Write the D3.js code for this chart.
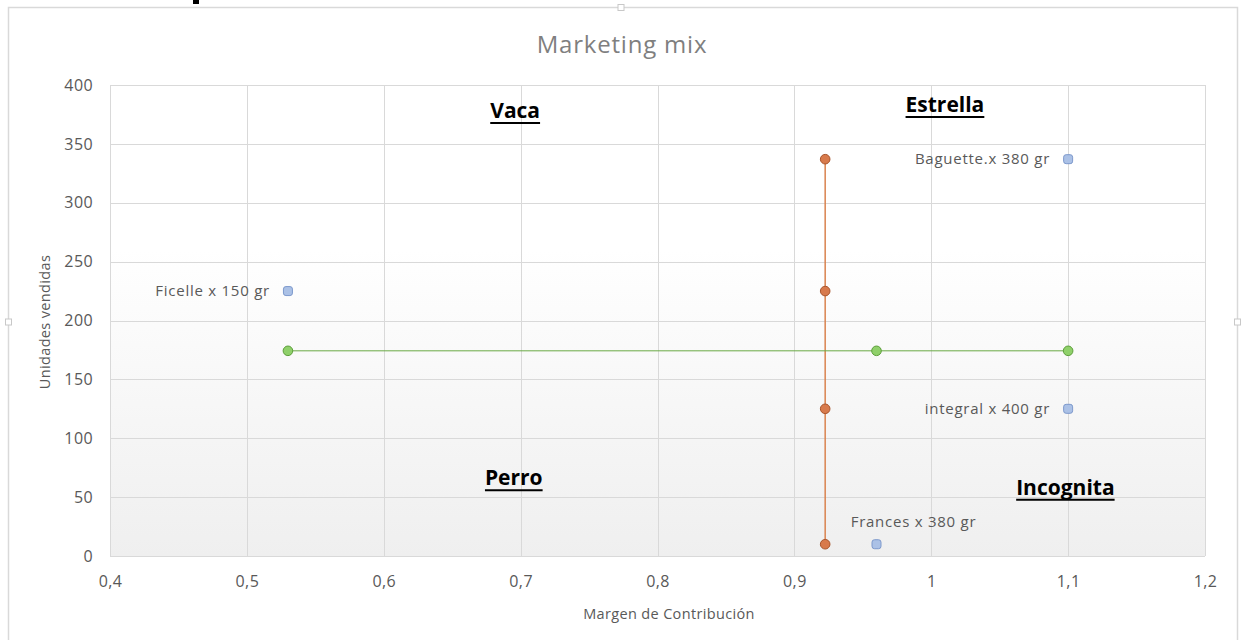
<!DOCTYPE html>
<html>
<head>
<meta charset="utf-8">
<script src="https://cdn.jsdelivr.net/npm/d3@7"></script>
<style>
  html, body { margin: 0; padding: 0; background: #ffffff; }
  svg { display: block; font-family: "Open Sans", "Liberation Sans", sans-serif; }
</style>
</head>
<body>
<svg id="chart" width="1243" height="640"></svg>
<script>
// ---- data ----
const products = ["Ficelle x 150 gr", "Baguette.x 380 gr", "integral x 400 gr", "Frances x 380 gr"];
const margins  = [0.53, 1.1, 1.1, 0.96];
const units    = [225, 337, 125, 10];
const avgMargin = 0.9225;             // vertical reference line (orange)
const avgUnits  = 174.25;             // horizontal reference line (green)
const greenMargins = [0.53, 0.96, 1.1];
const xTicks = [0.4, 0.5, 0.6, 0.7, 0.8, 0.9, 1.0, 1.1, 1.2];
const yTicks = [0, 50, 100, 150, 200, 250, 300, 350, 400];
const quadrants = ["Vaca", "Estrella", "Perro", "Incognita"];
const quadrantX = [0.696, 1.01, 0.695, 1.098];
const quadrantY = [372, 377, 60, 52];

const FONT = '"Open Sans", "Liberation Sans", sans-serif';
const svg = d3.select("#chart");
const x = d3.scaleLinear().domain([0.4, 1.2]).range([110, 1205]);
const y = d3.scaleLinear().domain([0, 400]).range([556, 85]);

// fragment of content above the chart (cut off by the crop)
svg.append("rect").attr("x", 193).attr("y", 0).attr("width", 6).attr("height", 4).attr("fill", "#000");

// chart frame
svg.append("rect").attr("x", 8.5).attr("y", 7.5).attr("width", 1229).attr("height", 660)
  .attr("fill", "#fff").attr("stroke", "#d9d9d9").attr("stroke-width", 1.5);
[[621, 7.5], [8.5, 322], [1237.5, 322]].forEach(([hx, hy]) => {
  svg.append("rect").attr("x", hx - 3).attr("y", hy - 3).attr("width", 6).attr("height", 6)
    .attr("fill", "#fff").attr("stroke", "#c8c8c8").attr("stroke-width", 1);
});

// plot background gradient
const defs = svg.append("defs");
const grad = defs.append("linearGradient").attr("id", "bg").attr("x1", 0).attr("y1", 0).attr("x2", 0).attr("y2", 1);
grad.append("stop").attr("offset", "0%").attr("stop-color", "#ffffff");
grad.append("stop").attr("offset", "35%").attr("stop-color", "#ffffff");
grad.append("stop").attr("offset", "100%").attr("stop-color", "#efefef");
svg.append("rect").attr("x", x(0.4)).attr("y", y(400)).attr("width", x(1.2) - x(0.4)).attr("height", y(0) - y(400))
  .attr("fill", "url(#bg)");

// gridlines
const g = svg.append("g");
g.selectAll(".vg").data(xTicks).join("line")
  .attr("x1", d => Math.round(x(d)) + 0.5).attr("x2", d => Math.round(x(d)) + 0.5)
  .attr("y1", y(400)).attr("y2", y(0)).attr("stroke", "#d9d9d9").attr("stroke-width", 1);
g.selectAll(".hg").data(yTicks).join("line")
  .attr("y1", d => Math.round(y(d)) + 0.5).attr("y2", d => Math.round(y(d)) + 0.5)
  .attr("x1", x(0.4)).attr("x2", x(1.2)).attr("stroke", "#d9d9d9").attr("stroke-width", 1);

// axes
const xAxis = svg.append("g").attr("transform", `translate(0,${y(0)})`)
  .call(d3.axisBottom(x).tickValues(xTicks).tickSize(0).tickPadding(20)
    .tickFormat(d => d === 1 ? "1" : d3.format(".1f")(d).replace(".", ",")));
xAxis.attr("font-family", FONT);
xAxis.select(".domain").remove();
xAxis.selectAll("text").attr("fill", "#595959").style("font-size", "16px").style("letter-spacing", "0.4px");

const yAxis = svg.append("g").attr("transform", `translate(${x(0.4)},0)`)
  .call(d3.axisLeft(y).tickValues(yTicks).tickSize(0).tickPadding(17));
yAxis.attr("font-family", FONT);
yAxis.select(".domain").remove();
yAxis.selectAll("text").attr("fill", "#595959").style("font-size", "16px").style("letter-spacing", "0.4px");

// axis titles
svg.append("text").attr("x", 669).attr("y", 619).attr("text-anchor", "middle")
  .style("font-size", "14.5px").style("letter-spacing", "0.35px").attr("fill", "#595959").text("Margen de Contribución");
svg.append("text").attr("transform", "translate(50,322) rotate(-90)").attr("text-anchor", "middle")
  .style("font-size", "14.5px").style("letter-spacing", "0.35px").attr("fill", "#595959").text("Unidades vendidas");

// title
svg.append("text").attr("x", 622).attr("y", 53).attr("text-anchor", "middle")
  .style("font-size", "24px").style("letter-spacing", "0.8px").attr("fill", "#7f7f7f").text("Marketing mix");

// orange vertical line + points
const oData = units.map(u => ({ m: avgMargin, u }));
svg.append("path").datum(d3.sort(oData, d => d.u))
  .attr("d", d3.line().x(d => x(d.m)).y(d => y(d.u)))
  .attr("fill", "none").attr("stroke", "#d9834f").attr("stroke-width", 1.5);
svg.selectAll(".op").data(oData).join("circle")
  .attr("cx", d => x(d.m)).attr("cy", d => y(d.u)).attr("r", 4.8)
  .attr("fill", "#d87a4c").attr("stroke", "#a9552c").attr("stroke-width", 1);

// green horizontal line + points
const gData = greenMargins.map(m => ({ m, u: avgUnits }));
svg.append("path").datum(gData)
  .attr("d", d3.line().x(d => x(d.m)).y(d => y(d.u)))
  .attr("fill", "none").attr("stroke", "#6aaa45").attr("stroke-width", 1);
svg.selectAll(".gp").data(gData).join("circle")
  .attr("cx", d => x(d.m)).attr("cy", d => y(d.u)).attr("r", 4.8)
  .attr("fill", "#8fd06a").attr("stroke", "#5c9e3a").attr("stroke-width", 1);

// product points (blue squares)
const pData = products.map((p, i) => ({ p, m: margins[i], u: units[i] }));
svg.selectAll(".bp").data(pData).join("rect")
  .attr("x", d => x(d.m) - 4.5).attr("y", d => y(d.u) - 4.5).attr("width", 9).attr("height", 9)
  .attr("rx", 2.5).attr("fill", "#abc1e6").attr("stroke", "#7d99cc").attr("stroke-width", 1);

// data labels
svg.selectAll(".bl").data(pData).join("text")
  .attr("x", d => d.p.startsWith("Frances") ? x(d.m) + 37 : x(d.m) - 18)
  .attr("y", d => d.p.startsWith("Frances") ? y(d.u) - 17 : y(d.u) + 5)
  .attr("text-anchor", d => d.p.startsWith("Frances") ? "middle" : "end")
  .style("font-size", "15px").style("letter-spacing", "0.75px").attr("fill", "#595959").text(d => d.p);

// quadrant labels
quadrants.forEach((q, i) => {
  const t = svg.append("text").attr("x", x(quadrantX[i])).attr("y", y(quadrantY[i]))
    .attr("text-anchor", "middle").style("font-size", "21px").attr("font-weight", "bold")
    .attr("fill", "#000").text(q);
  const bb = t.node().getBBox();
  svg.append("line").attr("x1", bb.x).attr("x2", bb.x + bb.width)
    .attr("y1", y(quadrantY[i]) + 5).attr("y2", y(quadrantY[i]) + 5)
    .attr("stroke", "#000").attr("stroke-width", 2);
});
</script>
</body>
</html>
